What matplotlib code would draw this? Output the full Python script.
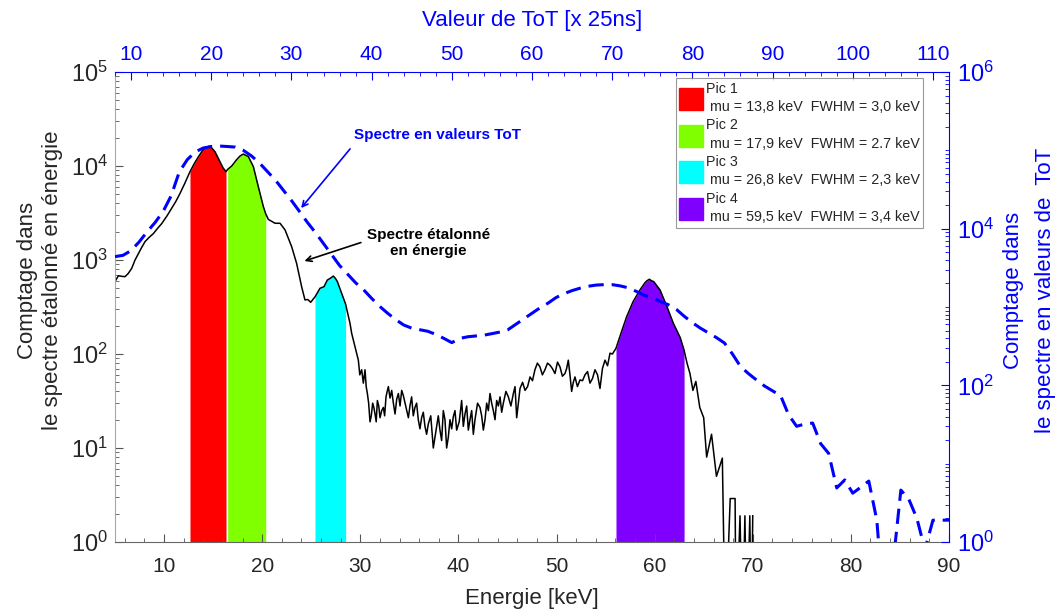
import numpy as np
import matplotlib
matplotlib.use("Agg")
import matplotlib.pyplot as plt
from matplotlib.patches import Patch
from matplotlib.ticker import FixedLocator, LogLocator, MultipleLocator, NullFormatter

plt.rcParams['font.family'] = ['Liberation Sans', 'DejaVu Sans']
plt.rcParams['mathtext.fontset'] = 'custom'
plt.rcParams['mathtext.rm'] = 'Liberation Sans'
plt.rcParams['mathtext.it'] = 'Liberation Sans:italic'
plt.rcParams['mathtext.bf'] = 'Liberation Sans:bold'

## DATA

# spectre etalonne en energie (axe du bas / axe de gauche)
energy_kev = [
    5.00, 5.34, 5.70, 6.02, 6.35, 6.70, 7.04, 7.38, 7.70, 8.06,
    8.50, 8.91, 9.30, 9.76, 10.30, 10.77, 11.20, 11.62, 12.10, 12.64,
    13.05, 13.49, 13.90, 14.27, 14.68, 15.19, 15.70, 16.00, 16.31, 16.48,
    16.89, 17.40, 17.75, 18.08, 18.59, 19.10, 19.61, 20.12, 20.36, 20.63,
    21.31, 21.82, 22.33, 23.00, 23.51, 24.02, 24.36, 24.65, 24.94, 25.38,
    25.89, 26.30, 26.64, 26.95, 27.25, 27.45, 27.66, 28.10, 28.50, 28.95,
    29.12, 29.45, 29.80, 29.95, 30.14, 30.31, 30.48, 30.60, 30.72, 30.85,
    30.99, 31.12, 31.26, 31.38, 31.50, 31.62, 31.74, 31.88, 32.01, 32.18,
    32.35, 32.48, 32.62, 32.74, 32.86, 33.03, 33.20, 33.37, 33.54, 33.71,
    33.88, 34.05, 34.22, 34.39, 34.56, 34.73, 34.90, 35.06, 35.23, 35.40,
    35.57, 35.74, 35.91, 36.08, 36.25, 36.42, 36.59, 36.76, 36.93, 37.18,
    37.44, 37.61, 37.78, 37.95, 38.12, 38.29, 38.46, 38.63, 38.80, 38.97,
    39.14, 39.31, 39.48, 39.65, 39.82, 40.08, 40.33, 40.50, 40.67, 40.84,
    41.01, 41.18, 41.35, 41.52, 41.69, 41.95, 42.20, 42.37, 42.54, 42.71,
    42.88, 43.05, 43.22, 43.39, 43.56, 43.73, 43.90, 44.07, 44.24, 44.41,
    44.58, 44.84, 45.09, 45.35, 45.60, 45.77, 45.94, 46.11, 46.28, 46.54,
    46.79, 47.05, 47.30, 47.55, 47.80, 48.05, 48.31, 48.56, 48.82, 49.08,
    49.33, 49.58, 49.84, 50.10, 50.35, 50.60, 50.86, 51.03, 51.20, 51.37,
    51.54, 51.71, 51.88, 52.13, 52.39, 52.65, 52.90, 53.16, 53.41, 53.67,
    53.92, 54.18, 54.43, 54.68, 54.94, 55.20, 55.45, 55.70, 56.06, 56.60,
    57.15, 57.80, 58.50, 59.00, 59.20, 59.46, 59.70, 59.90, 60.55, 61.20,
    61.90, 62.60, 63.00, 63.30, 63.60, 63.90, 64.20, 64.60, 65.00, 65.30,
    65.80, 66.30, 66.90, 67.20, 67.70, 68.20, 68.30, 68.70, 68.95, 69.20,
    69.40, 69.70, 69.85, 70.00,
]
counts_energy = [
    590, 680, 670, 665, 720, 815, 1000, 1170, 1350, 1570,
    1750, 1910, 2150, 2440, 2950, 3550, 4200, 5100, 6500, 8700,
    10500, 12500, 14500, 15800, 16300, 14200, 11100, 9600, 8700, 9200,
    10000, 11700, 12800, 13400, 12600, 9850, 6000, 3700, 3100, 2700,
    2460, 2460, 2090, 1390, 920, 520, 376, 380, 355, 405,
    500, 520, 612, 640, 675, 640, 590, 443, 340, 212,
    166, 120, 86, 60, 68, 49, 68, 45, 38, 30,
    19, 22, 30, 27, 23, 19, 32, 28, 21, 25,
    27, 22, 35, 40, 45, 34, 41, 30, 23, 33,
    38, 28, 41, 36, 30, 25, 21, 28, 35, 22,
    27, 30, 20, 16, 21, 24, 17, 14, 18, 22,
    10, 13, 17, 22, 15.5, 12, 25, 20, 10, 13,
    20, 16, 21.5, 25, 15.5, 19, 32, 17, 23, 28,
    15.5, 20, 25, 14, 20, 30, 27, 22, 15.5, 20,
    30, 25, 38, 30, 25, 20, 32, 28, 35, 24,
    30, 40, 35, 28, 38, 45, 21, 30, 43, 50,
    41, 45, 57, 52, 68, 80, 73, 60, 68, 80,
    76, 70, 62, 82, 73, 58, 62, 70, 86, 60,
    40, 50, 57, 45, 53, 52, 60, 65, 49, 55,
    68, 60, 43, 70, 86, 75, 102, 100, 115, 170,
    250, 360, 480, 570, 600, 624, 600, 590, 480, 330,
    213, 150, 110, 80, 62, 41, 51, 27, 21, 8,
    14, 5, 7.8, 0.1, 2.9, 2.9, 0.1, 1.9, 0.1, 1.9,
    0.1, 1.9, 0.1, 1.9,
]

# spectre en valeurs ToT (axe du haut / axe de droite)
tot_values = list(range(8, 113))
counts_tot = [
    4400, 4570, 5250, 6760, 9120, 12000, 16600, 26300, 52500, 75900,        # 8-17
    95500, 107000, 112000, 113500, 112000, 110000, 100000, 85100, 69200, 53700,  # 18-27
    41700, 30900, 22900, 16600, 12000, 8900, 6460, 4680, 3390, 2630,        # 28-37
    2040, 1660, 1290, 1020, 832, 692, 589, 537, 513, 490,                   # 38-47
    447, 398, 351, 398, 417, 427, 437, 457, 479, 513,                       # 48-57
    603, 708, 832, 977, 1120, 1320, 1480, 1620, 1740, 1840,                 # 58-67
    1905, 1930, 1930, 1860, 1760, 1585, 1410, 1320, 1175, 1070,             # 68-77
    933, 759, 631, 537, 468, 407, 347, 251, 174, 141,                       # 78-87
    117, 98, 85, 74, 42, 30, 32, 33, 18, 13.5,                              # 88-97
    4.9, 6.2, 4.2, 5.0, 6.0, 1.9, 0.1, 0.5, 4.6, 3.5,                       # 98-107
    2.0, 0.8, 1.9, 1.9, 1.9,                                                # 108-112
]

# pics
peak_names = ["Pic 1", "Pic 2", "Pic 3", "Pic 4"]
peak_mu = ["13,8", "17,9", "26,8", "59,5"]
peak_fwhm = ["3,0", "2.7", "2,3", "3,4"]
peak_lo = [12.64, 16.48, 25.38, 56.06]
peak_hi = [16.31, 20.36, 28.50, 63.00]
peak_colors = ['#ff0000', '#80ff00', '#00ffff', '#8000ff']

DARK = '#262626'
BLUE = '#0000ff'

## PLOT
fig = plt.figure(figsize=(10.64, 6.15), dpi=100)
rect = [0.1081, 0.1187, 0.7838, 0.7642]
ax = fig.add_axes(rect)
ax2 = fig.add_axes(rect)

E = np.array(energy_kev)
C = np.array(counts_energy)

# zones colorees sous les pics
for lo, hi, col in zip(peak_lo, peak_hi, peak_colors):
    m = (E >= lo) & (E <= hi)
    ax.fill_between(E, 1, C, where=m, color=col, linewidth=0)

ax.plot(E, C, color='black', linewidth=1.1)
ax.set_yscale('log')
ax.set_xlim(5, 90)
ax.set_ylim(1, 1e5)

ax.xaxis.set_major_locator(MultipleLocator(10))
ax.xaxis.set_minor_locator(MultipleLocator(2))
ax.yaxis.set_major_locator(LogLocator(base=10, numticks=10))
ax.yaxis.set_minor_locator(LogLocator(base=10, subs=np.arange(2, 10), numticks=20))
ax.yaxis.set_minor_formatter(NullFormatter())

ax.spines['top'].set_visible(False)
ax.spines['right'].set_visible(False)
ax.spines['left'].set_color('#a8a8a8')
ax.spines['bottom'].set_color('#666666')
ax.tick_params(which='both', direction='in', colors='#555555', labelcolor=DARK)
ax.tick_params(which='major', length=6)
ax.tick_params(which='minor', length=3)
ax.tick_params(axis='x', labelsize=15, pad=11)
ax.tick_params(axis='y', labelsize=17, pad=5)

ax.set_xlabel('Energie [keV]', fontsize=16, color=DARK)
ax.xaxis.set_label_coords(0.5, -0.097)
ax.set_ylabel('Comptage dans\nle spectre étalonné en énergie', fontsize=16, color=DARK,
              linespacing=1.3)
ax.yaxis.set_label_coords(-0.062, 0.557)

# axe ToT
ax2.patch.set_visible(False)
ax2.plot(tot_values, counts_tot, color=BLUE, linewidth=2.2, linestyle=(0, (5, 2.6)))
ax2.set_yscale('log')
ax2.set_xlim(8, 112)
ax2.set_ylim(1, 1e6)
ax2.xaxis.tick_top()
ax2.xaxis.set_label_position('top')
ax2.yaxis.tick_right()
ax2.yaxis.set_label_position('right')
ax2.xaxis.set_major_locator(MultipleLocator(10))
ax2.xaxis.set_minor_locator(MultipleLocator(2))
ax2.yaxis.set_major_locator(FixedLocator([1, 1e2, 1e4, 1e6]))
ax2.yaxis.set_minor_locator(LogLocator(base=10, subs=np.arange(1, 10), numticks=20))
ax2.yaxis.set_minor_formatter(NullFormatter())
ax2.spines['left'].set_visible(False)
ax2.spines['bottom'].set_visible(False)
ax2.spines['top'].set_color(BLUE)
ax2.spines['right'].set_color(BLUE)
ax2.tick_params(which='both', direction='in', colors=BLUE)
ax2.tick_params(which='major', length=6)
ax2.tick_params(which='minor', length=3)
ax2.tick_params(axis='x', labelsize=15, pad=6)
ax2.tick_params(axis='y', labelsize=17, pad=6)

ax2.set_xlabel('Valeur de ToT [x 25ns]', fontsize=16, color=BLUE)
ax2.xaxis.set_label_coords(0.5, 1.098)
ax2.set_ylabel('Comptage dans\nle spectre en valeurs de  ToT', fontsize=16, color=BLUE,
               linespacing=1.65)
ax2.yaxis.set_label_coords(1.065, 0.536)

# annotations
ax2.annotate('', xy=(0.221, 0.706), xytext=(0.284, 0.841), xycoords='axes fraction',
             arrowprops=dict(arrowstyle='->', color=BLUE, lw=1.2))
ax2.text(0.2866, 0.866, 'Spectre en valeurs ToT', transform=ax2.transAxes,
         color=BLUE, fontweight='bold', fontsize=11, ha='left', va='center')
ax2.annotate('', xy=(0.224, 0.596), xytext=(0.298, 0.639), xycoords='axes fraction',
             arrowprops=dict(arrowstyle='->', color='black', lw=1.2))
ax2.text(0.376, 0.636, 'Spectre étalonné\nen énergie', transform=ax2.transAxes,
         color='black', fontweight='bold', fontsize=11, ha='center', va='center')

# legende
handles = [Patch(facecolor=c, edgecolor=c) for c in peak_colors]
labels = [f"{n}\n mu = {m} keV  FWHM = {f} keV"
          for n, m, f in zip(peak_names, peak_mu, peak_fwhm)]
leg = ax2.legend(handles, labels, loc='upper right', bbox_to_anchor=(0.969, 0.987),
                 fontsize=10.3, frameon=True, fancybox=False, edgecolor='#808080',
                 handlelength=1.7, handleheight=2.0, handletextpad=0.15,
                 borderpad=0.25, labelspacing=0.3, borderaxespad=0)
leg.get_frame().set_linewidth(0.8)
for t in leg.get_texts():
    t.set_color(DARK)
    t.set_linespacing(1.4)

fig.savefig('out.png', dpi=100)
